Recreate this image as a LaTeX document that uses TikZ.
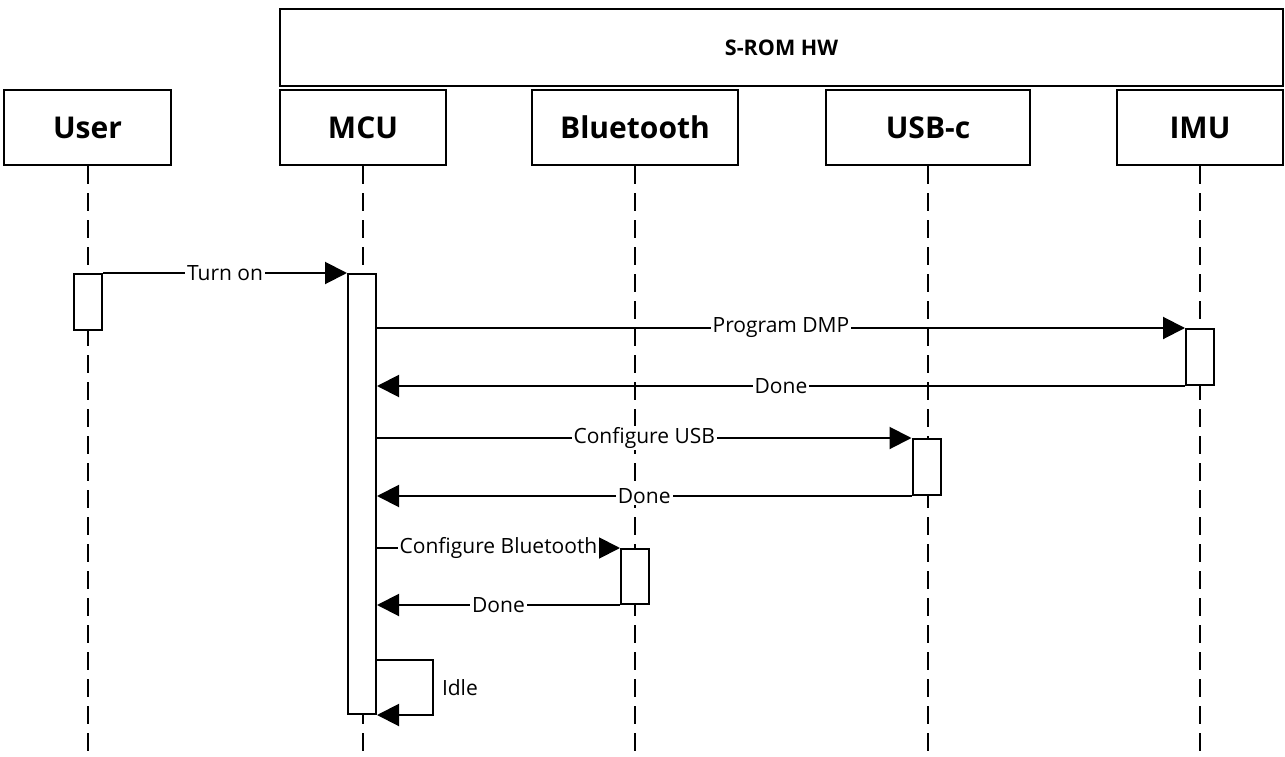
\documentclass[tikz,border=0pt]{standalone}
\usepackage{fontspec}
\setmainfont{Open Sans}
\usetikzlibrary{arrows.meta}

\tikzset{
  lbox/.style={draw, line width=2pt, fill=white, inner sep=0pt,
               font=\fontsize{30}{36}\selectfont\bfseries},
  grpbox/.style={draw, line width=2pt, fill=white, inner sep=0pt,
               font=\fontsize{21.5}{26}\selectfont\bfseries},
  lifeline/.style={line width=2pt, dash pattern=on 18pt off 9pt},
  actbox/.style={draw, line width=2pt, fill=white, inner sep=0pt,
                 minimum width=28, anchor=north},
  msg/.style={line width=2pt, -{Triangle[length=22pt,width=22pt]}},
  lbl/.style={fill=white, inner xsep=2pt, inner ysep=1pt,
              font=\fontsize{21}{25}\selectfont},
}

\begin{document}
\begin{tikzpicture}[x=1pt,y=-1pt]
  \useasboundingbox (0,0) rectangle (1285,757);
  \fill[white] (0,0) rectangle (1285,757);

  % group header over the hardware parts
  \node[grpbox, minimum width=1003, minimum height=77] (hw) at (781.5,47.5) {S-ROM HW};

  % participants
  \node[lbox, minimum width=167, minimum height=75] (user) at (87.5,127.5) {User};
  \node[lbox, minimum width=166, minimum height=75] (mcu)  at (363,127.5) {MCU};
  \node[lbox, minimum width=206, minimum height=75] (bt)   at (635,127.5) {Bluetooth};
  \node[lbox, minimum width=204, minimum height=75] (usb)  at (928,127.5) {USB-c};
  \node[lbox, minimum width=166, minimum height=75] (imu)  at (1200,127.5) {IMU};

  % bottom of the lifelines
  \coordinate (bottom) at (0,760);

  % lifelines
  \foreach \p in {user,mcu,bt,usb,imu}
    \draw[lifeline] (\p.south) -- (\p.south |- bottom);

  % activation bars
  \node[actbox, minimum height=56]  (ua) at (88,273) {};
  \node[actbox, minimum height=440] (ma) at (362,273) {};
  \node[actbox, minimum height=56]  (ia) at (1200,328) {};
  \node[actbox, minimum height=56]  (sa) at (926.5,438) {};
  \node[actbox, minimum height=55]  (ba) at (635,548) {};

  % messages
  \draw[msg] (ua.north east) -- (ma.north west)
    node[lbl, midway] {Turn on};
  \draw[msg] (ia.north west -| ma.east) -- (ia.north west)
    node[lbl, midway] {Program DMP};
  \draw[msg] (ia.south west) -- (ia.south west -| ma.east)
    node[lbl, midway] {Done};
  \draw[msg] (sa.north west -| ma.east) -- (sa.north west)
    node[lbl, midway] {Configure USB};
  \draw[msg] (sa.south west) -- (sa.south west -| ma.east)
    node[lbl, midway] {Done};
  \draw[msg] (ba.north west -| ma.east) -- (ba.north west)
    node[lbl, midway] {Configure Bluetooth};
  \draw[msg] (ba.south west) -- (ba.south west -| ma.east)
    node[lbl, midway] {Done};

  % self call
  \coordinate (idlestart) at ([yshift=55pt]ma.south east);
  \draw[msg] (idlestart) -- ++(56,0) |- (ma.south east)
    node[pos=0.25, right, font=\fontsize{21}{25}\selectfont, inner xsep=8pt] {Idle};
\end{tikzpicture}
\end{document}
